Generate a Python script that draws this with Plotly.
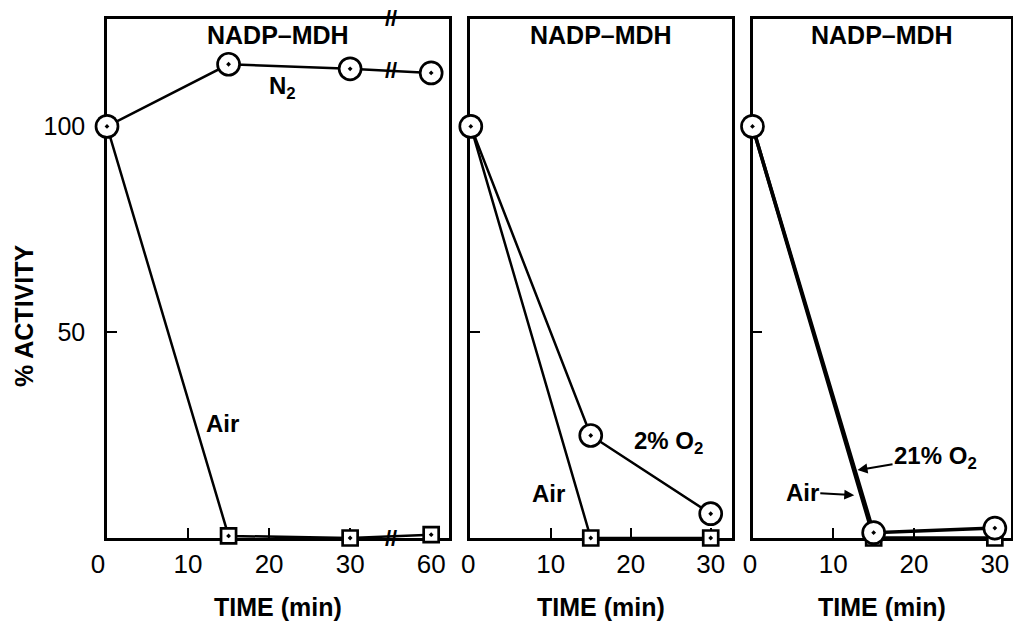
import plotly.graph_objects as go

# ---------------- data ----------------
# Panel 1: N2 vs Air (time axis broken between 30 and 60 min)
p1_time = [0, 15, 30, 60]
p1_n2 = [100, 115.1, 114.0, 113.0]
p1_air = [100, 0.5, 0, 0.8]
p1_tick_times = [0, 10, 20, 30, 60]

# Panel 2: 2% O2 vs Air
p2_time = [0, 15, 30]
p2_o2 = [100, 24.9, 5.9]
p2_air = [100, 0, 0]

# Panel 3: 21% O2 vs Air
p3_time = [0, 15, 30]
p3_o2 = [100, 1.3, 2.4]
p3_air = [100, 0, 0]

p23_tick_times = [0, 10, 20, 30]
y_ticks = [50, 100]
title_text = "NADP\u2013MDH"
xtitle_text = "TIME (min)"
ytitle_text = "% ACTIVITY"

BREAK_GAP = 20  # 60 min drawn at 40 on the broken axis


def brk(t):
    return t if t <= 30 else t - BREAK_GAP


p1_x = [brk(t) for t in p1_time]
p1_tickvals = [brk(t) for t in p1_tick_times]

FONT = "Liberation Sans"
BLACK = "black"

circ = dict(symbol="circle-dot", size=22, color="white",
            line=dict(color=BLACK, width=2.7))
sq = dict(symbol="square-dot", size=15, color="white",
          line=dict(color=BLACK, width=2.7))

fig = go.Figure()

# panel 1
fig.add_trace(go.Scatter(x=p1_x, y=p1_air, mode="lines+markers", marker=sq,
                         line=dict(color=BLACK, width=2.5), xaxis="x", yaxis="y",
                         cliponaxis=False, showlegend=False))
fig.add_trace(go.Scatter(x=p1_x, y=p1_n2, mode="lines+markers", marker=circ,
                         line=dict(color=BLACK, width=2.5), xaxis="x", yaxis="y",
                         cliponaxis=False, showlegend=False))
# panel 2
fig.add_trace(go.Scatter(x=p2_time, y=p2_air, mode="lines+markers", marker=sq,
                         line=dict(color=BLACK, width=2.5), xaxis="x2", yaxis="y2",
                         cliponaxis=False, showlegend=False))
fig.add_trace(go.Scatter(x=p2_time, y=p2_o2, mode="lines+markers", marker=circ,
                         line=dict(color=BLACK, width=2.5), xaxis="x2", yaxis="y2",
                         cliponaxis=False, showlegend=False))
# panel 3
fig.add_trace(go.Scatter(x=p3_time, y=p3_air, mode="lines+markers", marker=sq,
                         line=dict(color=BLACK, width=3.5), xaxis="x3", yaxis="y3",
                         cliponaxis=False, showlegend=False))
fig.add_trace(go.Scatter(x=p3_time, y=p3_o2, mode="lines+markers", marker=circ,
                         line=dict(color=BLACK, width=3.5), xaxis="x3", yaxis="y3",
                         cliponaxis=False, showlegend=False))

W, H = 1013, 623
ydom = [1 - 538 / H, 1 - 19 / H]
dom1 = [107 / W, 449 / W]
dom2 = [470 / W, 731.5 / W]
dom3 = [752.5 / W, 1011 / W]

axis_common = dict(showline=True, linecolor=BLACK, linewidth=2.5, mirror=True,
                   ticks="inside", ticklen=10, tickwidth=2, tickcolor=BLACK,
                   showgrid=False, zeroline=False, automargin=False,
                   layer="below traces",
                   tickfont=dict(family=FONT, size=26, color=BLACK))

p1_ticktext = [str(t) for t in p1_tick_times]
p1_ticktext[0] = "0\u2002\u2009"
p23_ticktext = [str(t) for t in p23_tick_times]
p23_ticktext[0] = "0\u2009"

fig.update_layout(
    width=W, height=H,
    margin=dict(l=0, r=0, t=0, b=0),
    paper_bgcolor="white", plot_bgcolor="white",
    template="none",
    xaxis=dict(domain=dom1, range=[0, 42.2], anchor="y", tickvals=p1_tickvals,
               ticktext=p1_ticktext, ticklabelstandoff=1, **axis_common),
    xaxis2=dict(domain=dom2, range=[-0.1, 32.6], anchor="y2", tickvals=p23_tick_times,
                ticktext=p23_ticktext, ticklabelstandoff=1, **axis_common),
    xaxis3=dict(domain=dom3, range=[0, 32.0], anchor="y3", tickvals=p23_tick_times,
                ticktext=p23_ticktext, ticklabelstandoff=1, **axis_common),
    yaxis=dict(domain=ydom, range=[0, 126.1], anchor="x", tickvals=y_ticks,
               ticktext=[str(v) for v in y_ticks], ticklabelstandoff=14,
               **{**axis_common, "tickfont": dict(family=FONT, size=25, color=BLACK)}),
    yaxis2=dict(domain=ydom, range=[0, 126.1], anchor="x2", tickvals=y_ticks,
                showticklabels=False, **axis_common),
    yaxis3=dict(domain=ydom, range=[0, 126.1], anchor="x3", tickvals=y_ticks,
                showticklabels=False, **axis_common),
)

bold = dict(family=FONT, size=24, color=BLACK)
C = dict(xanchor="center", yanchor="middle")
ann = []
# panel titles
for xr in ["x domain", "x2 domain", "x3 domain"]:
    ann.append(dict(text="<b>%s</b>" % title_text, xref=xr, x=0.5, yref="paper",
                    y=1 - 35 / H, showarrow=False,
                    font=dict(family=FONT, size=25, color=BLACK), **C))
# x titles
for d in [dom1, dom2, dom3]:
    ann.append(dict(text="<b>%s</b>" % xtitle_text, xref="paper", x=(d[0] + d[1]) / 2,
                    yref="paper", y=1 - 607 / H, showarrow=False,
                    font=dict(family=FONT, size=25, color=BLACK), **C))
# y title
ann.append(dict(text="<b>%s</b>" % ytitle_text, xref="paper", x=24 / W, yref="paper",
                y=1 - 316 / H, showarrow=False, textangle=-90,
                font=dict(family=FONT, size=25, color=BLACK), **C))

# series labels
ann.append(dict(text="<b>N<sub>2</sub></b>", xref="x", yref="y", x=21.6, y=109.4,
                showarrow=False, font=bold, **C))
ann.append(dict(text="<b>Air</b>", xref="x", yref="y", x=14.3, y=27.9,
                showarrow=False, font=bold, **C))
ann.append(dict(text="<b>2% O<sub>2</sub></b>", xref="x2", yref="y2", x=24.7, y=23.3,
                showarrow=False, font=bold, **C))
ann.append(dict(text="<b>Air</b>", xref="x2", yref="y2", x=9.7, y=10.9,
                showarrow=False, font=bold, **C))
ann.append(dict(text="<b>21% O<sub>2</sub></b>", xref="x3", yref="y3", x=13.0, y=16.5,
                ax=78, ay=-13, showarrow=True, arrowhead=2, arrowsize=1, arrowwidth=2,
                arrowcolor=BLACK, font=bold))
ann.append(dict(text="<b>Air</b>", xref="x3", yref="y3", x=12.6, y=10.4,
                ax=-52, ay=-3, showarrow=True, arrowhead=2, arrowsize=1, arrowwidth=2,
                arrowcolor=BLACK, font=bold))

# axis break marks (panel 1) at the broken position between 30 and 60 min
brk_x = (brk(30) + brk(60)) / 2
for yv in [0, 126.1, (p1_n2[2] + p1_n2[3]) / 2]:
    ann.append(dict(text="<b>//</b>", xref="x", yref="y", x=brk_x, y=yv,
                    showarrow=False, font=dict(family=FONT, size=22, color=BLACK), **C))

fig.update_layout(annotations=ann)
fig.write_html("out.html", config={"displayModeBar": False},
               post_script="document.body.style.margin='0';document.body.style.overflow='hidden';")
